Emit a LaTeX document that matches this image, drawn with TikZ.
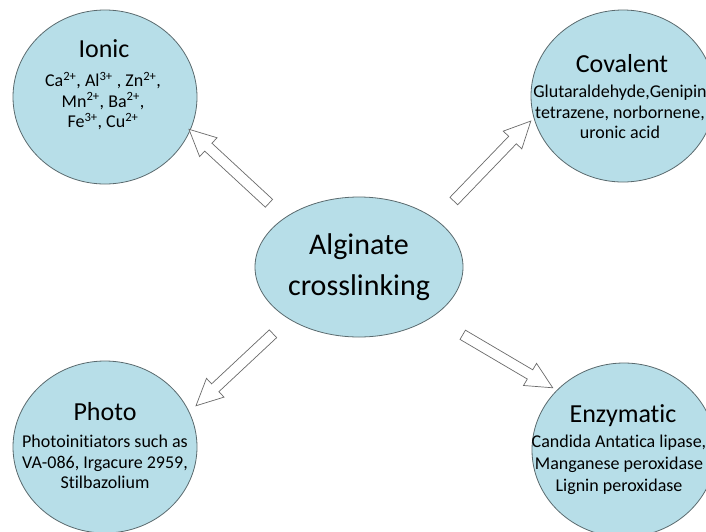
\documentclass[tikz,border=0pt]{standalone}
\usepackage{fontspec}
\setmainfont{Carlito}[Ligatures=NoCommon]
\usetikzlibrary{shapes.geometric,shapes.arrows,calc}
\definecolor{bubblefill}{HTML}{B7DEE8}
\definecolor{rim}{HTML}{5A6A6E}
\definecolor{arrowline}{HTML}{6A6A6A}
\begin{document}
\begin{tikzpicture}[x=1pt,y=-1pt,
  bubble/.style={ellipse, draw=rim, line width=0.8pt, fill=bubblefill, inner sep=0pt},
  titletext/.style={anchor=base, inner sep=0pt, font=\fontsize{26}{30}\selectfont},
  subtext/.style={align=center, inner sep=0pt, font=\fontsize{18}{20.5}\selectfont},
  blockarrow/.style={single arrow, draw=arrowline, fill=white, line width=0.7pt,
    inner sep=0pt, text height=0pt, text depth=0pt, inner ysep=5pt,
    single arrow head extend=7.5pt, single arrow tip angle=52}]
\useasboundingbox (0,0) rectangle (706,531);
\clip (0,0) rectangle (706,531);
\fill[white] (0,0) rectangle (706,531);

% bubbles
\node[bubble, minimum width=208pt, minimum height=140pt] (core) at (359,267) {};
\node[bubble, minimum width=184pt, minimum height=174pt] (ionic) at (105,97) {};
\node[bubble, minimum width=184pt, minimum height=172pt] (covalent) at (623,96) {};
\node[bubble, minimum width=184pt, minimum height=172pt] (photo) at (105,447) {};
\node[bubble, minimum width=184pt, minimum height=174pt] (enzymatic) at (624,450) {};

% texts
\node[align=center, inner sep=0pt, font=\fontsize{30}{41}\selectfont] (coretext) at (core.center) {Alginate\\crosslinking};

\node[titletext] (ionict) at (104,57) {Ionic};
\node[subtext] (ionics) at (103,101) {Ca\textsuperscript{2+}, Al\textsuperscript{3+} , Zn\textsuperscript{2+},\\Mn\textsuperscript{2+}, Ba\textsuperscript{2+},\\Fe\textsuperscript{3+}, Cu\textsuperscript{2+}};

\node[titletext] (covalentt) at (622,72) {Covalent};
\node[subtext] (covalents) at (620,112) {Glutaraldehyde,Genipin\\tetrazene, norbornene,\\uronic acid};

\node[titletext] (photot) at (105,420) {Photo};
\node[subtext] (photos) at (105,462) {Photoinitiators such as\\VA-086, Irgacure 2959,\\Stilbazolium};

\node[titletext] (enzymatict) at (623,422) {Enzymatic};
\node[subtext, font=\fontsize{18}{22}\selectfont] (enzymatics) at (619,465) {Candida Antatica lipase,\\Manganese peroxidase\\Lignin peroxidase};

% arrow end points
\coordinate (a1s) at (273,207); \coordinate (a1e) at (193,133);
\coordinate (a2s) at (450,205); \coordinate (a2e) at (527,125);
\coordinate (a3s) at (277,330); \coordinate (a3e) at (200,402);
\coordinate (a4s) at (458,332); \coordinate (a4e) at (548,385);

\foreach \ps/\pe/\aname in {a1s/a1e/arrI, a2s/a2e/arrC, a3s/a3e/arrP, a4s/a4e/arrE}{
  \path let \p1=($(\pe)-(\ps)$), \n1={atan2(\y1,\x1)}, \n2={veclen(\x1,\y1)} in
    node[blockarrow, rotate=\n1, minimum height=\n2] (\aname) at ($(\ps)!0.5!(\pe)$) {};
}
\end{tikzpicture}
\end{document}
